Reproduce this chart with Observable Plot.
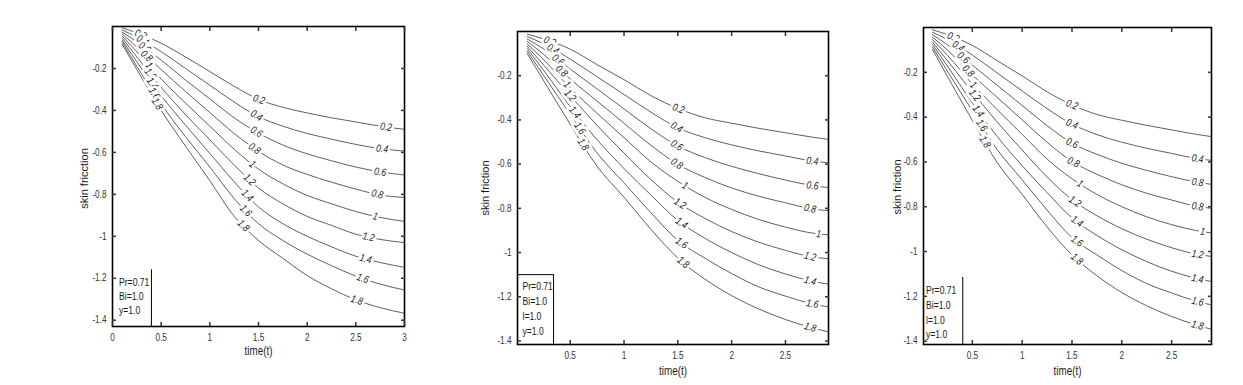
<!DOCTYPE html>
<html><head><meta charset="utf-8">
<script src="https://cdn.jsdelivr.net/npm/d3@7"></script>
<script src="https://cdn.jsdelivr.net/npm/@observablehq/plot@0.6"></script>
<style>
html,body{margin:0;padding:0;background:#fff;}
body{width:1243px;height:385px;overflow:hidden;position:relative;}
.panel{position:absolute;top:0;}
</style></head><body>
<div id="pA" class="panel" style="left:0px"></div>
<div id="pB" class="panel" style="left:430px"></div>
<div id="pC" class="panel" style="left:840px"></div>
<script>
// ---------- data ----------
const params = ["0.2","0.4","0.6","0.8","1","1.2","1.4","1.6","1.8"];

const timeA = [0.1,0.25,0.5,0.75,1,1.25,1.5,1.75,2,2.25,2.5,2.75,3];
const skinA = [
  [-0.007,-0.030,-0.080,-0.145,-0.215,-0.285,-0.347,-0.385,-0.412,-0.435,-0.455,-0.475,-0.490],
  [-0.017,-0.050,-0.120,-0.200,-0.280,-0.360,-0.430,-0.475,-0.510,-0.537,-0.562,-0.582,-0.594],
  [-0.027,-0.073,-0.160,-0.255,-0.345,-0.435,-0.508,-0.565,-0.607,-0.640,-0.670,-0.693,-0.708],
  [-0.036,-0.098,-0.205,-0.310,-0.410,-0.510,-0.595,-0.660,-0.705,-0.742,-0.775,-0.803,-0.815],
  [-0.046,-0.120,-0.250,-0.365,-0.475,-0.585,-0.680,-0.750,-0.805,-0.845,-0.882,-0.910,-0.929],
  [-0.056,-0.145,-0.290,-0.420,-0.540,-0.660,-0.770,-0.845,-0.905,-0.948,-0.990,-1.015,-1.030],
  [-0.066,-0.168,-0.330,-0.470,-0.605,-0.740,-0.860,-0.940,-1.000,-1.050,-1.095,-1.125,-1.148],
  [-0.075,-0.190,-0.370,-0.525,-0.670,-0.820,-0.940,-1.020,-1.085,-1.140,-1.190,-1.228,-1.256],
  [-0.085,-0.205,-0.400,-0.570,-0.735,-0.905,-1.020,-1.105,-1.187,-1.250,-1.303,-1.340,-1.367]
];

const timeB = [0.1,0.25,0.5,0.75,1,1.25,1.5,1.75,2,2.25,2.5,2.75,2.9];
const skinB = [
  [-0.012,-0.033,-0.080,-0.150,-0.218,-0.290,-0.348,-0.390,-0.415,-0.438,-0.458,-0.478,-0.488],
  [-0.023,-0.055,-0.125,-0.205,-0.285,-0.365,-0.436,-0.480,-0.513,-0.540,-0.563,-0.586,-0.594],
  [-0.034,-0.078,-0.170,-0.260,-0.350,-0.440,-0.518,-0.570,-0.610,-0.643,-0.672,-0.697,-0.706],
  [-0.045,-0.102,-0.215,-0.315,-0.415,-0.515,-0.601,-0.660,-0.708,-0.745,-0.775,-0.803,-0.810],
  [-0.056,-0.126,-0.255,-0.370,-0.480,-0.590,-0.678,-0.750,-0.805,-0.850,-0.885,-0.912,-0.920],
  [-0.067,-0.150,-0.290,-0.425,-0.550,-0.670,-0.772,-0.845,-0.905,-0.953,-0.990,-1.020,-1.028],
  [-0.078,-0.174,-0.340,-0.490,-0.620,-0.740,-0.855,-0.935,-1.000,-1.055,-1.097,-1.130,-1.143],
  [-0.089,-0.197,-0.375,-0.550,-0.685,-0.820,-0.945,-1.025,-1.095,-1.155,-1.197,-1.232,-1.246],
  [-0.100,-0.220,-0.420,-0.610,-0.750,-0.895,-1.025,-1.120,-1.195,-1.255,-1.303,-1.341,-1.359]
];
const skinC = [
  [-0.010,-0.032,-0.080,-0.148,-0.216,-0.287,-0.345,-0.388,-0.414,-0.437,-0.457,-0.477,-0.487],
  [-0.021,-0.054,-0.123,-0.203,-0.283,-0.362,-0.431,-0.478,-0.512,-0.539,-0.562,-0.585,-0.593],
  [-0.032,-0.077,-0.168,-0.258,-0.348,-0.438,-0.516,-0.566,-0.606,-0.638,-0.666,-0.690,-0.700],
  [-0.043,-0.100,-0.212,-0.312,-0.412,-0.512,-0.598,-0.655,-0.702,-0.740,-0.770,-0.798,-0.807],
  [-0.054,-0.124,-0.252,-0.367,-0.477,-0.587,-0.675,-0.745,-0.800,-0.845,-0.880,-0.907,-0.917],
  [-0.065,-0.148,-0.288,-0.422,-0.547,-0.667,-0.768,-0.840,-0.898,-0.945,-0.983,-1.012,-1.022],
  [-0.076,-0.172,-0.337,-0.487,-0.617,-0.737,-0.850,-0.928,-0.992,-1.045,-1.088,-1.120,-1.134],
  [-0.087,-0.195,-0.372,-0.545,-0.680,-0.815,-0.938,-1.015,-1.085,-1.143,-1.185,-1.222,-1.238],
  [-0.098,-0.218,-0.415,-0.603,-0.745,-0.890,-1.015,-1.108,-1.183,-1.242,-1.290,-1.328,-1.347]
];

// contour-label positions along each curve (time values)
const earlyA = [0.29,0.31,0.33,0.35,0.376,0.39,0.41,0.43,0.46];
const midA   = [1.505,1.48,1.48,1.46,1.437,1.41,1.386,1.37,1.345];
const rightA = [2.81,2.77,2.75,2.72,2.70,2.63,2.60,2.57,2.51];
const rightTextA = ["0.2","0.4","0.6","0.8","1","1.2","1.4","1.6","1.8"];

const earlyB = [0.31,0.34,0.387,0.42,0.47,0.5,0.543,0.59,0.62];
const midB   = [1.505,1.49,1.49,1.49,1.567,1.52,1.536,1.536,1.55];
const rightB = [null,2.75,2.75,2.73,2.81,2.73,2.73,2.75,2.73];
const rightTextB = [null,"0.4","0.6","0.8","1","1.2","1.4","1.6","1.8"];

const earlyC = [0.31,0.36,0.41,0.46,0.51,0.526,0.56,0.594,0.627];
const midC   = [1.5,1.5,1.5,1.515,1.58,1.53,1.55,1.55,1.55];
const rightC = [null,2.76,2.76,2.76,2.81,2.76,2.76,2.76,2.76];
const rightTextC = [null,"0.4","0.8","0.8","1","1.2","1.4","1.6","1.8"];

const xTicksA = [0,0.5,1,1.5,2,2.5,3];
const xTicksBC = [0.5,1,1.5,2,2.5];
const yTicks = [-0.2,-0.4,-0.6,-0.8,-1,-1.2,-1.4];

const legendA = ["Pr=0.71","Bi=1.0","y=1.0"];
const legendBC = ["Pr=0.71","Bi=1.0","l=1.0","y=1.0"];

// ---------- drawing ----------
const sans = '"Liberation Sans",Arial,sans-serif';
const SQUEEZE = 0.82; // horizontal text squeeze seen in the reference

function at(time, vals, t) {
  let j = d3.bisectRight(time, t) - 1;
  j = Math.max(0, Math.min(time.length - 2, j));
  const f = (t - time[j]) / (time[j+1] - time[j]);
  return {v: vals[j] + f * (vals[j+1] - vals[j]), s: (vals[j+1] - vals[j]) / (time[j+1] - time[j])};
}

function drawPanel(cfg) {
  const {W, H, ml, mr, mt, mb, xDomain, yDomain, time, skin} = cfg;
  const kx = (W - ml - mr) / (xDomain[1] - xDomain[0]);
  const ky = (H - mt - mb) / (yDomain[1] - yDomain[0]);
  const rows = params.flatMap((k, i) => time.map((t, j) => ({k, t, v: skin[i][j]})));
  const labels = [];
  params.forEach((k, i) => {
    [[cfg.early[i], k], [cfg.mid[i], k], [cfg.right[i], cfg.rightText[i]]].forEach(([t, txt]) => {
      if (t == null || txt == null) return;
      const {v, s} = at(time, skin[i], t);
      labels.push({t, v, txt, angle: Math.atan(-s * ky / kx) * 180 / Math.PI});
    });
  });
  const marks = [
    Plot.line(rows, {x: "t", y: "v", z: "k", stroke: "#2a2a2a", strokeWidth: 0.75, curve: "monotone-x"}),
    Plot.text(labels, {x: "t", y: "v", text: "txt", rotate: "angle", fill: "#1a1a1a", stroke: "white", strokeWidth: 6,
      fontSize: 10.5, fontStyle: "italic"}),
    Plot.ruleX([cfg.box.t], {y1: cfg.box.v, y2: yDomain[0], stroke: "#000", strokeWidth: 1}),
    ...(cfg.box.top ? [Plot.ruleY([cfg.box.v], {x1: xDomain[0], x2: cfg.box.t, stroke: "#000", strokeWidth: 1})] : []),
    Plot.text([cfg.legend.join("\n")], {text: d => d, frameAnchor: "bottom-left", textAnchor: "start", lineAnchor: "middle",
      dx: cfg.legDx, dy: cfg.legDy, lineHeight: cfg.legLH, fontSize: 10.5, fill: "#1a1a1a"}),
    Plot.frame({stroke: "#000", strokeWidth: 1.6}),
    Plot.axisX(cfg.xTicks, {anchor: "bottom", tickSize: -4, tickPadding: 11, strokeWidth: 1.5, label: null,
      tickFormat: d => String(d), fontSize: 10}),
    Plot.axisX(cfg.xTicks, {anchor: "top", tickSize: -4, strokeWidth: 1.5, label: null, tickFormat: () => ""}),
    Plot.axisY(yTicks, {anchor: "left", tickSize: -4, tickPadding: 10, strokeWidth: 1.5, label: null,
      tickFormat: d => String(d), fontSize: 10}),
    Plot.axisY(yTicks, {anchor: "right", tickSize: -4, strokeWidth: 1.5, label: null, tickFormat: () => ""}),
    Plot.text([cfg.ylabel], {text: d => d, frameAnchor: "left", rotate: -90, dx: cfg.ylDx, dy: cfg.ylDy,
      textAnchor: "middle", lineAnchor: "middle", fontSize: 11, fill: "#1a1a1a"}),
    Plot.text(["time(t)"], {text: d => d, frameAnchor: "bottom", dy: cfg.xlDy, textAnchor: "middle", lineAnchor: "middle",
      fontSize: 12, fill: "#1a1a1a"})
  ];
  const svg = Plot.plot({
    width: W, height: H, marginLeft: ml, marginRight: mr, marginTop: mt, marginBottom: mb,
    x: {domain: xDomain, axis: null}, y: {domain: yDomain, axis: null},
    style: {fontFamily: sans, fontSize: "10px", color: "#333", background: "transparent", overflow: "visible"},
    marks
  });
  // the reference figure is horizontally squeezed: narrow the horizontal texts
  svg.querySelectorAll("text").forEach(el => {
    if (el.textContent.startsWith("skin")) return;
    const tr = el.getAttribute("transform") || "";
    el.setAttribute("transform", (tr + ` scale(${SQUEEZE},1)`).trim());
  });
  document.getElementById(cfg.id).appendChild(svg);
}

drawPanel({id: "pA", W: 420, H: 385, ml: 112, mr: 16, mt: 26, mb: 59,
  xDomain: [0, 3], yDomain: [-1.43, 0], time: timeA, skin: skinA,
  early: earlyA, mid: midA, right: rightA, rightText: rightTextA, xTicks: xTicksA,
  box: {t: 0.4, v: -1.16, top: false}, legend: legendA, legDx: 6.5, legDy: -31, legLH: 1.36,
  ylabel: "skin fricction", ylDx: -28, ylDy: 2, xlDy: 25});

drawPanel({id: "pB", W: 410, H: 385, ml: 87, mr: 12, mt: 31, mb: 41,
  xDomain: [0.01, 2.9], yDomain: [-1.416, 0], time: timeB, skin: skinB,
  early: earlyB, mid: midB, right: rightB, rightText: rightTextB, xTicks: xTicksBC,
  box: {t: 0.345, v: -1.10, top: true}, legend: legendBC, legDx: 5, legDy: -37, legLH: 1.43,
  ylabel: "skin friction", ylDx: -32, ylDy: 0, xlDy: 27});

drawPanel({id: "pC", W: 403, H: 385, ml: 83, mr: 32, mt: 27, mb: 41,
  xDomain: [0.01, 2.9], yDomain: [-1.415, 0], time: timeB, skin: skinC,
  early: earlyC, mid: midC, right: rightC, rightText: rightTextC, xTicks: xTicksBC,
  box: {t: 0.404, v: -1.116, top: false}, legend: legendBC, legDx: 2.5, legDy: -33, legLH: 1.4,
  ylabel: "skin friction", ylDx: -26, ylDy: 1, xlDy: 27});
</script>
</body></html>
